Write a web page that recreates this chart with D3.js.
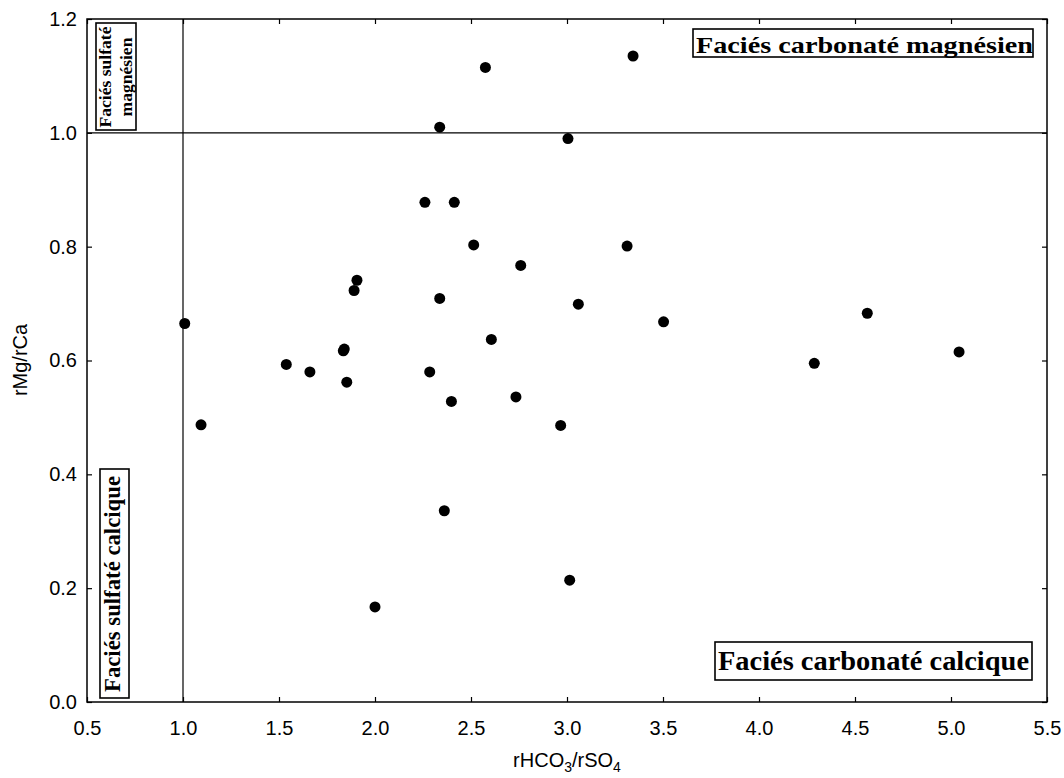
<!DOCTYPE html>
<html lang="fr">
<head>
<meta charset="utf-8">
<title>rMg/rCa vs rHCO3/rSO4</title>
<script src="https://d3js.org/d3.v7.min.js"></script>
<style>
  body { margin: 0; background: #fff; }
  .tick text { font-family: "Liberation Sans", Arial, sans-serif; font-size: 20px; fill: #000; }
  .facies { font-family: "Liberation Serif", "Times New Roman", serif; font-weight: bold; fill: #000; }
  .title { font-family: "Liberation Sans", Arial, sans-serif; font-size: 20px; fill: #000; }
</style>
</head>
<body>
<script>
  // data
  const xRatio = [1.009, 1.094, 1.538, 1.661, 1.840, 1.835, 1.853, 2.260, 2.413, 2.514, 3.313,
                  2.759, 1.906, 1.891, 2.337, 3.059, 2.606, 2.575, 3.344, 2.337, 3.005,
                  2.285, 2.398, 2.734, 2.967, 2.361, 3.014, 3.503, 4.564, 4.288, 5.042, 2.000];
  const yRatio = [0.665, 0.487, 0.593, 0.580, 0.620, 0.617, 0.562, 0.878, 0.878, 0.803, 0.801,
                  0.767, 0.741, 0.723, 0.709, 0.699, 0.637, 1.115, 1.135, 1.010, 0.990,
                  0.580, 0.528, 0.536, 0.486, 0.336, 0.214, 0.668, 0.683, 0.595, 0.615, 0.167];
  const xTicks = [0.5, 1.0, 1.5, 2.0, 2.5, 3.0, 3.5, 4.0, 4.5, 5.0, 5.5];
  const yTicks = [0.0, 0.2, 0.4, 0.6, 0.8, 1.0, 1.2];

  const W = 1064, H = 778;
  const pL = 87, pR = 1047, pT = 19, pB = 702;

  const svg = d3.select("body").append("svg")
      .attr("width", W).attr("height", H);

  const x = d3.scaleLinear().domain([0.5, 5.5]).range([pL, pR]);
  const y = d3.scaleLinear().domain([0, 1.2]).range([pB, pT]);

  // axes, ticks inside
  const fmt = d3.format(".1f");
  svg.append("g").attr("transform", "translate(0," + pB + ")")
     .call(d3.axisBottom(x).tickValues(xTicks).tickFormat(fmt).tickSizeInner(-5).tickSizeOuter(0).tickPadding(19));
  svg.append("g").attr("transform", "translate(" + pL + ",0)")
     .call(d3.axisLeft(y).tickValues(yTicks).tickFormat(fmt).tickSizeInner(-5).tickSizeOuter(0).tickPadding(10));
  svg.append("g").attr("transform", "translate(0," + pT + ")")
     .call(d3.axisTop(x).tickValues(xTicks).tickFormat("").tickSizeInner(-5).tickSizeOuter(0));
  svg.append("g").attr("transform", "translate(" + pR + ",0)")
     .call(d3.axisRight(y).tickValues(yTicks).tickFormat("").tickSizeInner(-5).tickSizeOuter(0));
  svg.selectAll(".domain").remove();
  svg.selectAll(".tick line").attr("stroke", "#000").attr("stroke-width", 1.2);

  // frame
  svg.append("rect")
     .attr("x", pL).attr("y", pT)
     .attr("width", pR - pL).attr("height", pB - pT)
     .attr("fill", "none").attr("stroke", "#000").attr("stroke-width", 1.5);

  // reference lines at 1
  svg.append("line")
     .attr("x1", x(1)).attr("x2", x(1)).attr("y1", y(0)).attr("y2", y(1.2))
     .attr("stroke", "#000").attr("stroke-width", 1.2);
  svg.append("line")
     .attr("x1", x(0.5)).attr("x2", x(5.5)).attr("y1", y(1)).attr("y2", y(1))
     .attr("stroke", "#000").attr("stroke-width", 1.2);

  // points
  svg.append("g").selectAll("circle")
     .data(xRatio.map((v, i) => [v, yRatio[i]]))
     .join("circle")
     .attr("cx", d => x(d[0])).attr("cy", d => y(d[1]))
     .attr("r", 5.5).attr("fill", "#000");

  // facies boxes
  function box(x0, y0, w, h) {
    svg.append("rect").attr("x", x0).attr("y", y0).attr("width", w).attr("height", h)
       .attr("fill", "#fff").attr("stroke", "#000").attr("stroke-width", 1.6);
  }

  box(693, 29, 340, 28);
  svg.append("text").attr("class", "facies")
     .attr("x", 696).attr("y", 53).attr("font-size", 24)
     .attr("textLength", 337).attr("lengthAdjust", "spacingAndGlyphs")
     .text("Faciés carbonaté magnésien");

  box(715, 642, 317, 38);
  svg.append("text").attr("class", "facies")
     .attr("x", 718).attr("y", 670).attr("font-size", 27)
     .attr("textLength", 311).attr("lengthAdjust", "spacingAndGlyphs")
     .text("Faciés carbonaté calcique");

  box(96, 23, 40, 107);
  const sm = svg.append("text").attr("class", "facies")
     .attr("font-size", 17.5).attr("text-anchor", "middle")
     .attr("transform", "translate(116,77) rotate(-90)");
  sm.append("tspan").attr("x", 0).attr("y", -5)
     .attr("textLength", 101).attr("lengthAdjust", "spacingAndGlyphs").text("Faciés sulfaté");
  sm.append("tspan").attr("x", 0).attr("y", 16).text("magnésien");

  box(100, 469, 29, 229);
  svg.append("text").attr("class", "facies")
     .attr("font-size", 23).attr("text-anchor", "middle")
     .attr("transform", "translate(120,584) rotate(-90)")
     .attr("textLength", 216).attr("lengthAdjust", "spacingAndGlyphs")
     .text("Faciés sulfaté calcique");

  // axis titles
  const xl = svg.append("text").attr("class", "title")
     .attr("x", (pL + pR) / 2).attr("y", 767)
     .attr("text-anchor", "middle");
  xl.append("tspan").text("rHCO");
  xl.append("tspan").attr("dy", 5).style("font-size", "14px").text("3");
  xl.append("tspan").attr("dy", -5).text("/rSO");
  xl.append("tspan").attr("dy", 5).style("font-size", "14px").text("4");

  svg.append("text").attr("class", "title")
     .attr("transform", "translate(27,360) rotate(-90)")
     .attr("text-anchor", "middle")
     .text("rMg/rCa");
</script>
</body>
</html>
